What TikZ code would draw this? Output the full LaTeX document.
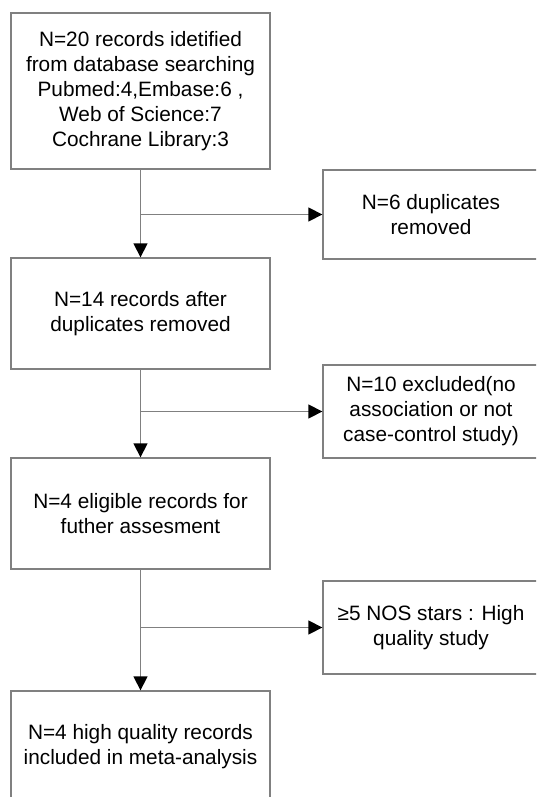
\documentclass[tikz,border=0pt]{standalone}
\usepackage{fontspec}
\setmainfont{Liberation Sans}
\usetikzlibrary{arrows.meta}
\definecolor{linegray}{HTML}{808080}
\begin{document}
\begin{tikzpicture}[x=1pt,y=-1pt,
  boxbase/.style={draw=linegray, line width=1.3pt, align=center, inner sep=0pt,
    font=\fontsize{20.8}{25}\selectfont, text=black},
  mainbox/.style={boxbase, minimum width=259pt},
  sidebox/.style={boxbase, minimum width=216pt},
  conn/.style={draw=linegray, line width=1.3pt},
  arr/.style={conn, -{Triangle[length=14pt,width=14pt,color=black]}}]
\useasboundingbox (0,0) rectangle (536,797);
\clip (0,0) rectangle (536,797);
\fill[white] (0,0) rectangle (536,797);
% main column
\node[mainbox, minimum height=156pt] (b1) at (140.5,91) {N=20 records idetified\\from database searching\\Pubmed:4,Embase:6 ,\\Web of Science:7\\Cochrane Library:3};
\node[mainbox, minimum height=111pt] (b2) at (140.5,313.5) {N=14 records after\\duplicates removed};
\node[mainbox, minimum height=111pt] (b3) at (140.5,513.5) {N=4 eligible records for\\futher assesment};
\node[mainbox, minimum height=111pt] (b4) at (140.5,746.5) {N=4 high quality records\\included in meta-analysis};
% side column
\node[sidebox, minimum height=89pt] (s1) at (431,214.5) {N=6 duplicates\\removed};
\node[sidebox, minimum height=93pt] (s2) at (431,411.5) {N=10 excluded(no\\association or not\\case-control study)};
\node[sidebox, minimum height=93pt] (s3) at (431,627.5) {≥5 NOS stars : High\\quality study};
% connectors
\draw[arr] (b1.south) -- (b2.north);
\draw[arr] (b2.south) -- (b3.north);
\draw[arr] (b3.south) -- (b4.north);
\draw[arr] (b1.south |- s1.west) -- (s1.west);
\draw[arr] (b2.south |- s2.west) -- (s2.west);
\draw[arr] (b3.south |- s3.west) -- (s3.west);
\end{tikzpicture}
\end{document}
